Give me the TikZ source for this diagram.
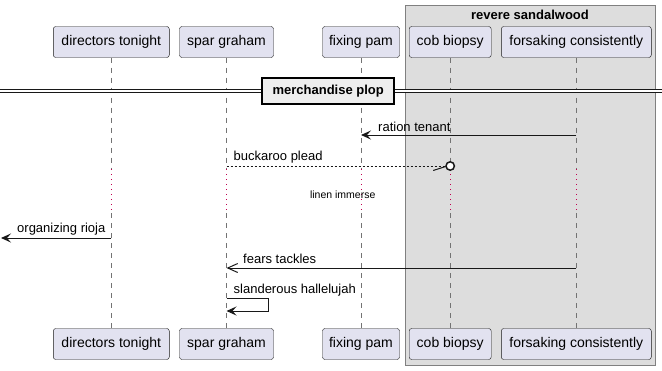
\documentclass[tikz,border=0pt]{standalone}
\usepackage{fontspec}
\setmainfont{Liberation Sans}
\usetikzlibrary{arrows.meta, positioning}

\definecolor{actorfill}{HTML}{E2E2F0}
\definecolor{linedark}{HTML}{181818}
\definecolor{groupfill}{HTML}{DDDDDD}
\definecolor{sepfill}{HTML}{EEEEEE}
\definecolor{delayred}{HTML}{C0004F}

\begin{document}
\begin{tikzpicture}[
  x=1pt, y=-1pt,
  actor/.style={draw=linedark, fill=actorfill, rounded corners=2.5pt, minimum height=31pt, inner sep=0pt, font=\fontsize{14}{16}\selectfont},
  lifeline/.style={draw=black!55, line width=0.8pt, dash pattern=on 5pt off 5pt},
  delayline/.style={draw=delayred, line width=0.9pt, dash pattern=on 1pt off 4pt},
  msg/.style={draw=linedark, line width=1pt, -{Stealth[length=10pt, width=9pt, inset=4pt]}},
  openmsg/.style={draw=linedark, line width=1pt, -{Straight Barb[length=10pt, width=9pt]}},
  lbl/.style={anchor=base west, inner sep=0pt, font=\fontsize{13}{15}\selectfont},
  sepbox/.style={draw=black, line width=2pt, fill=sepfill, minimum width=132pt, minimum height=26pt, inner sep=0pt, font=\bfseries\fontsize{13}{15}\selectfont}
]
\useasboundingbox (0,0) rectangle (662,370);

% group box behind the last two participants
\draw[black!50, fill=groupfill, line width=1pt] (405.3,5.7) rectangle (655,365);
\node[font=\bfseries\fontsize{13}{15}\selectfont] (grp) at (530,15) {revere sandalwood};

% participants, top and bottom
\node[actor, minimum width=116pt] (dir-t) at (111.3,42) {directors tonight};
\node[actor, minimum width=94pt] (spar-t) at (226.5,42) {spar graham};
\node[actor, minimum width=77pt] (fix-t) at (361,42) {fixing pam};
\node[actor, minimum width=82pt] (cob-t) at (450.2,42) {cob biopsy};
\node[actor, minimum width=150pt] (for-t) at (576.3,42) {forsaking consistently};

\node[actor, minimum width=116pt] (dir-b) at (111.3,344) {directors tonight};
\node[actor, minimum width=94pt] (spar-b) at (226.5,344) {spar graham};
\node[actor, minimum width=77pt] (fix-b) at (361,344) {fixing pam};
\node[actor, minimum width=82pt] (cob-b) at (450.2,344) {cob biopsy};
\node[actor, minimum width=150pt] (for-b) at (576.3,344) {forsaking consistently};

% lifelines, dotted through the delay
\foreach \p in {dir,spar,fix,cob,for} {
  \draw[lifeline] (\p-t.south) -- (\p-t.south |- 0,168);
  \draw[delayline] (\p-t.south |- 0,169) -- (\p-t.south |- 0,213);
  \draw[lifeline] (\p-t.south |- 0,213) -- (\p-b.north);
}

% divider
\coordinate (sep-l) at (0,91);
\coordinate (sep-r) at (662,91);
\draw[linedark, double, double distance=2.4pt, line width=1pt] (sep-l) -- (sep-r);
\node[sepbox] (sep) at (328.2,91) {merchandise plop};

% messages
\draw[msg] (for-t.south |- 0,135) -- (fix-t.south |- 0,135);
\node[lbl] (l-ration) at (378,131) {ration tenant};

\draw[linedark, line width=1pt, dash pattern=on 2pt off 2pt] (spar-t.south |- 0,166) -- (cob-t.south |- 0,166) ++(-4.5,0);
\draw[linedark, line width=1.5pt, fill=white] (cob-t.south |- 0,166) circle (4.2pt);
\draw[linedark, line width=1pt] (cob-t.south |- 0,166) ++(-17,4.5) -- ++(12.5,-4);
\node[lbl] (l-buck) at (233.5,160.5) {buckaroo plead};

\node[font=\fontsize{10.5}{12}\selectfont] (delay) at (342.7,195) {linen immerse};

\coordinate (lost) at (1,238);
\draw[msg] (dir-t.south |- 0,238) -- (lost);
\node[lbl] (l-org) at (17,232.5) {organizing rioja};

\draw[openmsg] (for-t.south |- 0,268) -- (spar-t.south |- 0,268);
\node[lbl] (l-fears) at (243,263) {fears tackles};

\draw[msg] (spar-t.south |- 0,298) -- ++(41.5,0) -- ++(0,13) -- (spar-t.south |- 0,311);
\node[lbl] (l-sland) at (233.5,293) {slanderous hallelujah};
\end{tikzpicture}
\end{document}
